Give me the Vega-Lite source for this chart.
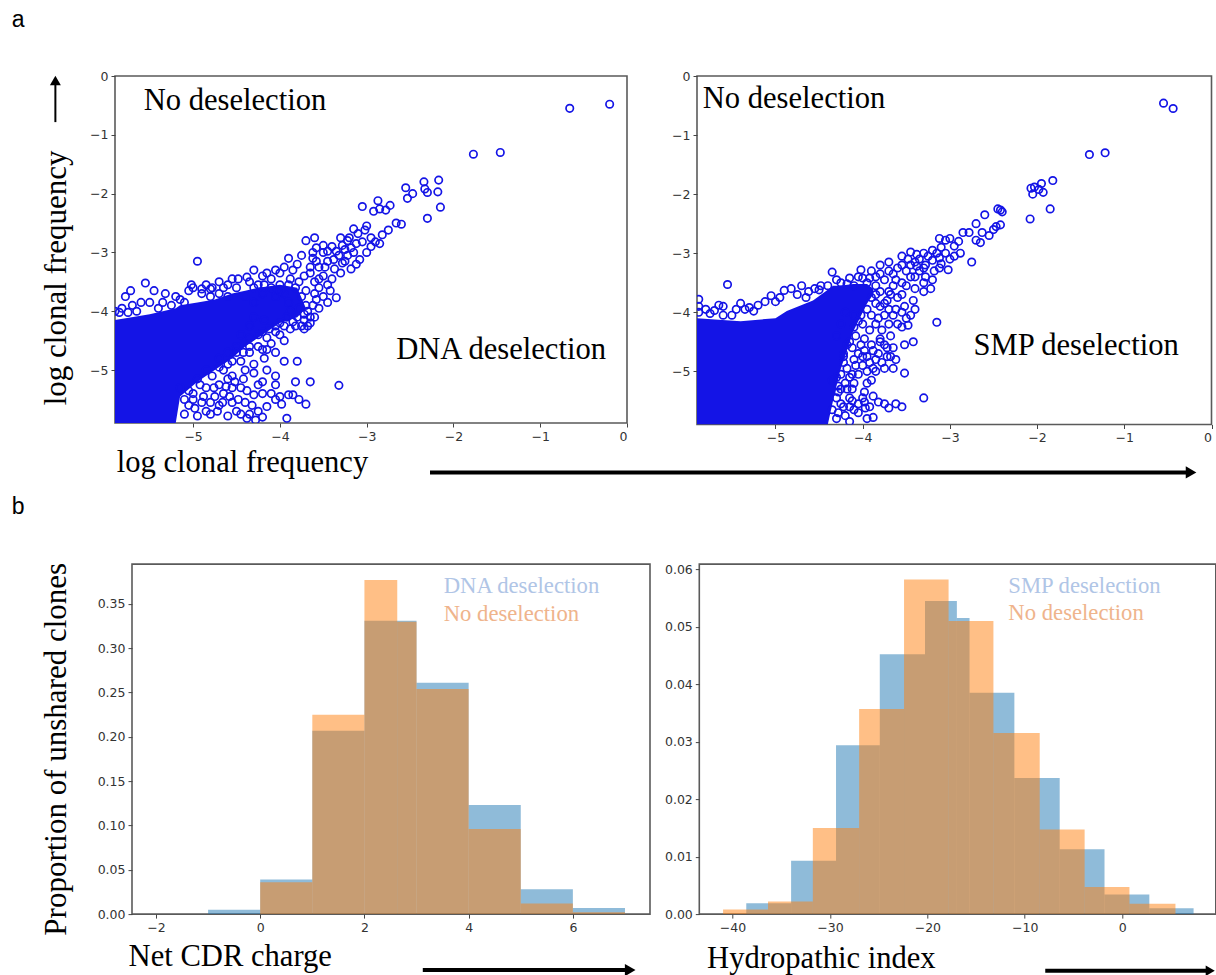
{"$schema":"https://vega.github.io/schema/vega-lite/v6.json","padding":{"left":10,"top":8,"right":0,"bottom":0},"background":"white","bounds":"flush","spacing":488.1,
"config":{"view":{"stroke":"#5a5a5a","strokeWidth":1.6},"axis":{"grid":false,"title":null,"domain":false,"tickColor":"#444","tickSize":4,"labelColor":"#333","labelFont":"DejaVu Sans","labelFontSize":12.5,"labelPadding":3},"text":{"font":"Liberation Serif","fontSize":30.6,"align":"left","baseline":"alphabetic","color":"black"}},
"datasets":{
"dnaPts":[{"x":-0.2,"y":-0.48},{"x":-0.66,"y":-0.55},{"x":-1.46,"y":-1.3},{"x":-1.77,"y":-1.33},{"x":-2.17,"y":-1.77},{"x":-2.34,"y":-1.8},{"x":-2.33,"y":-1.92},{"x":-2.55,"y":-1.9},{"x":-2.18,"y":-1.97},{"x":-2.3,"y":-1.98},{"x":-2.47,"y":-2.0},{"x":-2.15,"y":-2.23},{"x":-2.3,"y":-2.42},{"x":-2.53,"y":-2.08},{"x":-2.6,"y":-2.52},{"x":-2.66,"y":-2.5},{"x":-2.87,"y":-2.12},{"x":-2.73,"y":-2.2},{"x":-2.92,"y":-2.3},{"x":-2.85,"y":-2.26},{"x":-3.05,"y":-2.22},{"x":-2.78,"y":-2.28},{"x":-2.75,"y":-2.62},{"x":-2.82,"y":-2.7},{"x":-2.85,"y":-2.85},{"x":-2.9,"y":-2.82},{"x":-2.95,"y":-2.9},{"x":-3.0,"y":-2.55},{"x":-3.02,"y":-2.62},{"x":-3.15,"y":-2.6},{"x":-3.1,"y":-2.68},{"x":-3.2,"y":-2.75},{"x":-3.22,"y":-2.8},{"x":-3.25,"y":-2.95},{"x":-3.3,"y":-2.75},{"x":-3.4,"y":-2.9},{"x":-3.45,"y":-2.98},{"x":-3.5,"y":-3.0},{"x":-3.6,"y":-2.75},{"x":-3.62,"y":-3.0},{"x":-3.7,"y":-2.8},{"x":-3.75,"y":-3.05},{"x":-3.0,"y":-3.0},{"x":-3.08,"y":-3.12},{"x":-3.12,"y":-3.2},{"x":-3.18,"y":-3.28},{"x":-3.15,"y":-3.0},{"x":-3.22,"y":-3.05},{"x":-3.28,"y":-3.18},{"x":-3.3,"y":-3.35},{"x":-3.37,"y":-3.28},{"x":-3.35,"y":-3.77},{"x":-3.45,"y":-3.15},{"x":-3.5,"y":-3.4},{"x":-3.55,"y":-3.25},{"x":-3.62,"y":-3.1},{"x":-3.6,"y":-3.5},{"x":-3.65,"y":-3.35},{"x":-3.7,"y":-3.65},{"x":-3.8,"y":-3.2},{"x":-3.85,"y":-3.3},{"x":-3.88,"y":-3.45},{"x":-3.9,"y":-3.1},{"x":-3.95,"y":-3.25},{"x":-4.0,"y":-3.35},{"x":-4.05,"y":-3.3},{"x":-4.15,"y":-3.35},{"x":-4.2,"y":-3.4},{"x":-4.3,"y":-3.3},{"x":-4.38,"y":-3.42},{"x":-4.48,"y":-3.45},{"x":-4.6,"y":-3.55},{"x":-4.7,"y":-3.5},{"x":-4.78,"y":-3.6},{"x":-4.85,"y":-3.55},{"x":-4.95,"y":-3.15},{"x":-5.0,"y":-3.6},{"x":-5.02,"y":-3.55},{"x":-5.05,"y":-3.65},{"x":-5.2,"y":-3.75},{"x":-5.32,"y":-3.7},{"x":-5.45,"y":-3.65},{"x":-5.5,"y":-3.85},{"x":-5.6,"y":-3.85},{"x":-5.55,"y":-3.52},{"x":-5.72,"y":-3.65},{"x":-5.78,"y":-3.75},{"x":-5.9,"y":-4.0},{"x":-5.85,"y":-4.02},{"x":-5.75,"y":-4.02},{"x":-5.65,"y":-4.0},{"x":-3.7,"y":-3.9},{"x":-3.72,"y":-4.05},{"x":-3.75,"y":-3.75},{"x":-3.78,"y":-3.95},{"x":-3.8,"y":-4.1},{"x":-3.85,"y":-4.18},{"x":-3.82,"y":-3.6},{"x":-3.9,"y":-3.85},{"x":-3.88,"y":-4.0},{"x":-3.92,"y":-4.1},{"x":-3.95,"y":-3.7},{"x":-4.0,"y":-3.55},{"x":-4.0,"y":-4.2},{"x":-4.05,"y":-3.75},{"x":-4.05,"y":-4.25},{"x":-4.1,"y":-3.6},{"x":-4.12,"y":-4.3},{"x":-4.18,"y":-3.55},{"x":-4.18,"y":-4.15},{"x":-4.2,"y":-3.7},{"x":-4.25,"y":-4.4},{"x":-3.95,"y":-4.5},{"x":-4.0,"y":-4.4},{"x":-4.1,"y":-4.55},{"x":-4.05,"y":-4.7},{"x":-4.15,"y":-4.45},{"x":-4.18,"y":-4.8},{"x":-4.2,"y":-4.65},{"x":-3.95,"y":-4.85},{"x":-3.8,"y":-4.85},{"x":-4.05,"y":-5.1},{"x":-3.82,"y":-5.2},{"x":-3.65,"y":-5.2},{"x":-3.32,"y":-5.26},{"x":-4.05,"y":-5.25},{"x":-4.15,"y":-5.0},{"x":-4.2,"y":-5.2},{"x":-4.3,"y":-4.9},{"x":-4.3,"y":-5.05},{"x":-4.35,"y":-4.7},{"x":-4.35,"y":-4.6},{"x":-4.4,"y":-5.0},{"x":-4.45,"y":-4.85},{"x":-4.5,"y":-4.7},{"x":-4.55,"y":-5.1},{"x":-4.6,"y":-4.9},{"x":-4.65,"y":-5.0},{"x":-4.25,"y":-5.25},{"x":-4.3,"y":-5.42},{"x":-4.2,"y":-5.4},{"x":-4.1,"y":-5.4},{"x":-4.0,"y":-5.45},{"x":-4.05,"y":-5.5},{"x":-3.9,"y":-5.42},{"x":-3.85,"y":-5.42},{"x":-3.98,"y":-5.58},{"x":-3.7,"y":-5.58},{"x":-3.78,"y":-5.5},{"x":-3.92,"y":-5.82},{"x":-4.25,"y":-5.7},{"x":-4.2,"y":-5.8},{"x":-4.38,"y":-5.82},{"x":-4.5,"y":-5.7},{"x":-4.55,"y":-5.55},{"x":-4.6,"y":-5.78},{"x":-4.7,"y":-5.6},{"x":-4.7,"y":-5.25},{"x":-4.75,"y":-5.45},{"x":-4.78,"y":-5.1},{"x":-4.8,"y":-5.75},{"x":-4.65,"y":-5.4},{"x":-4.55,"y":-5.3},{"x":-4.45,"y":-5.3},{"x":-4.4,"y":-5.55},{"x":-4.45,"y":-5.75},{"x":-4.85,"y":-5.3},{"x":-4.9,"y":-5.55},{"x":-4.95,"y":-5.78},{"x":-5.05,"y":-5.6},{"x":-4.35,"y":-5.75},{"x":-4.32,"y":-5.6},{"x":-4.6,"y":-5.15},{"x":-4.15,"y":-5.62},{"x":-3.6,"y":-4.1},{"x":-3.55,"y":-3.95},{"x":-3.65,"y":-4.2},{"x":-3.58,"y":-3.8},{"x":-3.68,"y":-4.0},{"x":-3.75,"y":-4.25},{"x":-4.3,"y":-3.6},{"x":-4.4,"y":-3.75},{"x":-4.5,"y":-3.6},{"x":-4.6,"y":-3.75},{"x":-4.7,"y":-3.7},{"x":-4.8,"y":-3.75},{"x":-4.9,"y":-3.7},{"x":-5.1,"y":-3.85},{"x":-5.25,"y":-3.9},{"x":-5.4,"y":-3.95},{"x":-4.3,"y":-3.85},{"x":-4.3,"y":-4.1},{"x":-4.35,"y":-4.25},{"x":-4.45,"y":-4.4},{"x":-4.5,"y":-4.6},{"x":-4.6,"y":-4.7},{"x":-4.7,"y":-4.8},{"x":-4.85,"y":-5.0},{"x":-4.95,"y":-5.15},{"x":-5.05,"y":-5.35},{"x":-5.0,"y":-5.5},{"x":-5.15,"y":-5.3},{"x":-5.1,"y":-5.5},{"x":-5.1,"y":-5.75},{"x":-5.0,"y":-5.4},{"x":-4.98,"y":-5.65},{"x":-4.92,"y":-5.25},{"x":-4.88,"y":-5.45},{"x":-4.85,"y":-5.7},{"x":-4.8,"y":-5.55},{"x":-4.76,"y":-5.3},{"x":-4.72,"y":-5.7},{"x":-4.66,"y":-5.55},{"x":-4.62,"y":-5.28},{"x":-4.58,"y":-5.45},{"x":-4.52,"y":-5.2},{"x":-4.48,"y":-5.5},{"x":-4.42,"y":-5.15},{"x":-4.38,"y":-5.35},{"x":-4.28,"y":-5.85},{"x":-4.7,"y":-4.95},{"x":-4.55,"y":-4.85},{"x":-4.42,"y":-4.7},{"x":-4.25,"y":-4.6},{"x":-4.15,"y":-4.65},{"x":-4.35,"y":-4.45},{"x":-4.2,"y":-4.35},{"x":-4.05,"y":-4.35},{"x":-3.95,"y":-4.25},{"x":-3.88,"y":-4.3},{"x":-3.82,"y":-4.25},{"x":-3.72,"y":-4.15},{"x":-3.65,"y":-4.1},{"x":-3.62,"y":-3.9},{"x":-3.6,"y":-3.7},{"x":-3.55,"y":-3.6},{"x":-3.5,"y":-3.75},{"x":-3.45,"y":-3.55},{"x":-3.45,"y":-3.85},{"x":-3.42,"y":-3.65},{"x":-3.4,"y":-3.45},{"x":-3.38,"y":-3.12},{"x":-3.32,"y":-3.05},{"x":-3.25,"y":-3.15},{"x":-3.55,"y":-3.45},{"x":-3.65,"y":-3.25},{"x":-3.72,"y":-3.4},{"x":-3.78,"y":-3.5},{"x":-3.58,"y":-3.15},{"x":-3.48,"y":-3.25},{"x":-3.9,"y":-3.55},{"x":-4.0,"y":-3.65},{"x":-4.1,"y":-3.45},{"x":-4.25,"y":-3.55},{"x":-4.35,"y":-3.5},{"x":-4.55,"y":-3.45},{"x":-4.65,"y":-3.6},{"x":-4.8,"y":-3.62},{"x":-4.9,"y":-3.62},{"x":-5.15,"y":-3.8},{"x":-5.35,"y":-3.85},{"x":-5.7,"y":-3.9},{"x":-5.82,"y":-3.95},{"x":-3.72,"y":-4.3},{"x":-3.68,"y":-4.25},{"x":-3.05,"y":-2.82},{"x":-2.95,"y":-2.75},{"x":-3.18,"y":-2.92},{"x":-3.12,"y":-2.85},{"x":-3.28,"y":-2.88},{"x":-3.35,"y":-2.98},{"x":-3.5,"y":-2.88},{"x":-3.58,"y":-2.92}],
"dnaCore":[{"x":-5.9,"lo":-5.9,"hi":-4.15},{"x":-5.5,"lo":-5.9,"hi":-4.05},{"x":-5.2,"lo":-5.9,"hi":-3.95},{"x":-5.15,"lo":-5.45,"hi":-3.9},{"x":-4.95,"lo":-5.2,"hi":-3.85},{"x":-4.75,"lo":-5.0,"hi":-3.8},{"x":-4.55,"lo":-4.8,"hi":-3.7},{"x":-4.4,"lo":-4.6,"hi":-3.65},{"x":-4.25,"lo":-4.45,"hi":-3.6},{"x":-4.0,"lo":-4.2,"hi":-3.55},{"x":-3.8,"lo":-4.1,"hi":-3.6},{"x":-3.7,"lo":-3.95,"hi":-3.95}],
"smpPts":[{"x":-0.44,"y":-0.55},{"x":-0.55,"y":-0.46},{"x":-1.22,"y":-1.3},{"x":-1.4,"y":-1.33},{"x":-1.82,"y":-1.77},{"x":-1.95,"y":-1.82},{"x":-2.03,"y":-1.88},{"x":-1.98,"y":-1.92},{"x":-2.07,"y":-1.9},{"x":-1.93,"y":-1.97},{"x":-2.05,"y":-2.0},{"x":-1.85,"y":-2.25},{"x":-2.08,"y":-2.42},{"x":-2.45,"y":-2.25},{"x":-2.42,"y":-2.27},{"x":-2.4,"y":-2.3},{"x":-2.47,"y":-2.55},{"x":-2.42,"y":-2.52},{"x":-2.5,"y":-2.6},{"x":-2.6,"y":-2.35},{"x":-2.7,"y":-2.5},{"x":-2.78,"y":-2.65},{"x":-2.63,"y":-2.65},{"x":-2.55,"y":-2.7},{"x":-2.65,"y":-2.82},{"x":-2.7,"y":-2.78},{"x":-2.75,"y":-3.15},{"x":-2.85,"y":-2.65},{"x":-2.9,"y":-2.8},{"x":-2.95,"y":-2.88},{"x":-3.0,"y":-2.75},{"x":-3.05,"y":-2.78},{"x":-3.12,"y":-2.75},{"x":-3.1,"y":-2.9},{"x":-3.2,"y":-2.95},{"x":-3.15,"y":-3.0},{"x":-3.05,"y":-3.0},{"x":-2.95,"y":-3.05},{"x":-3.0,"y":-3.1},{"x":-3.12,"y":-3.08},{"x":-3.2,"y":-3.12},{"x":-3.28,"y":-3.2},{"x":-3.3,"y":-3.0},{"x":-3.35,"y":-3.1},{"x":-3.4,"y":-3.15},{"x":-3.45,"y":-3.2},{"x":-3.5,"y":-3.3},{"x":-3.55,"y":-3.05},{"x":-3.6,"y":-3.25},{"x":-3.3,"y":-3.5},{"x":-3.35,"y":-3.3},{"x":-3.4,"y":-3.4},{"x":-3.2,"y":-3.45},{"x":-3.22,"y":-3.6},{"x":-3.15,"y":-4.17},{"x":-3.3,"y":-3.65},{"x":-3.4,"y":-3.6},{"x":-3.5,"y":-3.55},{"x":-3.55,"y":-3.7},{"x":-3.42,"y":-3.8},{"x":-3.52,"y":-3.9},{"x":-3.4,"y":-3.95},{"x":-3.6,"y":-3.75},{"x":-3.62,"y":-3.95},{"x":-3.5,"y":-4.1},{"x":-3.6,"y":-4.2},{"x":-3.48,"y":-4.22},{"x":-3.52,"y":-4.55},{"x":-3.42,"y":-4.5},{"x":-3.3,"y":-5.45},{"x":-3.55,"y":-5.6},{"x":-3.75,"y":-4.55},{"x":-3.7,"y":-4.2},{"x":-3.75,"y":-4.05},{"x":-3.82,"y":-4.1},{"x":-3.68,"y":-4.4},{"x":-3.65,"y":-4.6},{"x":-3.72,"y":-4.75},{"x":-3.65,"y":-4.95},{"x":-3.75,"y":-4.95},{"x":-3.52,"y":-5.03},{"x":-3.85,"y":-4.8},{"x":-3.82,"y":-4.7},{"x":-3.85,"y":-5.0},{"x":-3.9,"y":-4.55},{"x":-3.92,"y":-4.3},{"x":-3.92,"y":-4.85},{"x":-3.98,"y":-4.65},{"x":-4.0,"y":-4.9},{"x":-4.05,"y":-4.7},{"x":-4.05,"y":-5.05},{"x":-4.1,"y":-4.8},{"x":-4.12,"y":-5.05},{"x":-3.9,"y":-5.15},{"x":-3.95,"y":-5.2},{"x":-3.98,"y":-5.35},{"x":-4.1,"y":-5.2},{"x":-4.0,"y":-5.45},{"x":-3.88,"y":-5.42},{"x":-3.82,"y":-5.52},{"x":-3.75,"y":-5.55},{"x":-3.7,"y":-5.62},{"x":-3.62,"y":-5.55},{"x":-4.05,"y":-5.55},{"x":-4.05,"y":-5.7},{"x":-3.97,"y":-5.62},{"x":-3.95,"y":-5.8},{"x":-3.88,"y":-5.78},{"x":-4.15,"y":-5.45},{"x":-4.2,"y":-5.2},{"x":-4.25,"y":-5.05},{"x":-4.2,"y":-5.75},{"x":-4.15,"y":-5.85},{"x":-4.25,"y":-5.55},{"x":-4.28,"y":-5.7},{"x":-4.15,"y":-5.6},{"x":-4.12,"y":-4.6},{"x":-4.08,"y":-4.4},{"x":-4.18,"y":-4.95},{"x":-3.95,"y":-3.95},{"x":-3.85,"y":-3.85},{"x":-3.75,"y":-3.85},{"x":-3.7,"y":-3.65},{"x":-3.65,"y":-3.55},{"x":-3.75,"y":-3.45},{"x":-3.62,"y":-3.45},{"x":-3.8,"y":-3.35},{"x":-3.7,"y":-3.3},{"x":-3.85,"y":-3.55},{"x":-3.9,"y":-3.3},{"x":-3.95,"y":-3.5},{"x":-4.0,"y":-3.42},{"x":-4.05,"y":-3.4},{"x":-4.1,"y":-3.55},{"x":-4.18,"y":-3.52},{"x":-4.25,"y":-3.5},{"x":-4.35,"y":-3.32},{"x":-4.4,"y":-3.55},{"x":-4.48,"y":-3.55},{"x":-4.55,"y":-3.6},{"x":-4.65,"y":-3.75},{"x":-4.7,"y":-3.55},{"x":-4.82,"y":-3.6},{"x":-4.9,"y":-3.63},{"x":-4.95,"y":-3.75},{"x":-5.05,"y":-3.72},{"x":-5.12,"y":-3.82},{"x":-5.2,"y":-3.88},{"x":-5.3,"y":-3.92},{"x":-5.4,"y":-3.85},{"x":-5.55,"y":-3.53},{"x":-5.45,"y":-3.95},{"x":-5.6,"y":-3.9},{"x":-5.65,"y":-3.88},{"x":-5.8,"y":-3.95},{"x":-5.88,"y":-3.78},{"x":-5.88,"y":-4.0},{"x":-5.75,"y":-4.02},{"x":-5.6,"y":-4.05},{"x":-5.5,"y":-4.05},{"x":-3.85,"y":-3.7},{"x":-3.7,"y":-3.95},{"x":-3.78,"y":-4.3},{"x":-3.8,"y":-4.45},{"x":-3.85,"y":-4.2},{"x":-3.9,"y":-4.05},{"x":-4.0,"y":-4.2},{"x":-3.98,"y":-4.45},{"x":-4.02,"y":-4.05},{"x":-4.1,"y":-4.25},{"x":-4.18,"y":-4.55},{"x":-4.22,"y":-4.75},{"x":-4.28,"y":-5.25},{"x":-4.3,"y":-5.45},{"x":-4.35,"y":-5.15},{"x":-4.35,"y":-5.65},{"x":-3.3,"y":-3.25},{"x":-3.12,"y":-3.25},{"x":-3.02,"y":-3.28},{"x":-2.88,"y":-3.0},{"x":-4.3,"y":-4.4},{"x":-4.25,"y":-4.2},{"x":-4.22,"y":-4.7},{"x":-4.2,"y":-4.0},{"x":-4.15,"y":-4.5},{"x":-4.1,"y":-4.05},{"x":-4.05,"y":-4.15},{"x":-4.25,"y":-5.3},{"x":-4.3,"y":-5.1},{"x":-4.22,"y":-4.85},{"x":-4.15,"y":-5.1},{"x":-4.12,"y":-5.3},{"x":-4.18,"y":-5.3},{"x":-4.08,"y":-4.9},{"x":-4.02,"y":-4.55},{"x":-4.0,"y":-4.75},{"x":-3.95,"y":-5.0},{"x":-3.95,"y":-4.75},{"x":-3.88,"y":-4.65},{"x":-3.88,"y":-4.95},{"x":-3.8,"y":-4.5},{"x":-3.78,"y":-4.85},{"x":-3.72,"y":-4.6},{"x":-3.68,"y":-4.75},{"x":-3.62,"y":-4.8},{"x":-3.55,"y":-4.25},{"x":-3.45,"y":-4.05},{"x":-3.55,"y":-4.0},{"x":-3.65,"y":-4.05},{"x":-3.72,"y":-3.8},{"x":-3.68,"y":-3.7},{"x":-3.8,"y":-3.65},{"x":-3.8,"y":-3.9},{"x":-3.9,"y":-3.75},{"x":-3.55,"y":-3.5},{"x":-3.45,"y":-3.4},{"x":-3.48,"y":-3.1},{"x":-3.38,"y":-3.22},{"x":-3.28,"y":-3.4},{"x":-3.18,"y":-3.3},{"x":-3.1,"y":-3.18},{"x":-3.25,"y":-3.05},{"x":-3.38,"y":-3.02},{"x":-3.45,"y":-2.98},{"x":-3.7,"y":-3.15},{"x":-3.8,"y":-3.2},{"x":-3.55,"y":-3.2},{"x":-3.65,"y":-3.35},{"x":-3.85,"y":-3.4},{"x":-3.92,"y":-3.42},{"x":-4.02,"y":-3.28},{"x":-4.15,"y":-3.42},{"x":-4.3,"y":-3.45},{"x":-4.12,"y":-5.5},{"x":-4.3,"y":-5.8},{"x":-4.22,"y":-5.6},{"x":-4.28,"y":-5.35},{"x":-4.1,"y":-5.65},{"x":-3.98,"y":-5.52},{"x":-3.92,"y":-5.6},{"x":-4.5,"y":-3.62},{"x":-4.62,"y":-3.65},{"x":-4.75,"y":-3.7},{"x":-5.0,"y":-3.82},{"x":-5.25,"y":-3.98},{"x":-5.35,"y":-3.95},{"x":-5.88,"y":-3.9},{"x":-5.7,"y":-3.97}],
"smpCore":[{"x":-5.9,"lo":-5.9,"hi":-4.1},{"x":-5.4,"lo":-5.9,"hi":-4.15},{"x":-5.0,"lo":-5.9,"hi":-4.1},{"x":-4.87,"lo":-5.9,"hi":-3.98},{"x":-4.57,"lo":-5.9,"hi":-3.8},{"x":-4.4,"lo":-5.9,"hi":-3.62},{"x":-4.34,"lo":-5.5,"hi":-3.55},{"x":-4.26,"lo":-5.0,"hi":-3.55},{"x":-4.11,"lo":-4.33,"hi":-3.52},{"x":-3.95,"lo":-3.85,"hi":-3.52},{"x":-3.88,"lo":-3.7,"hi":-3.6}],
"chargeBars":[{"a":-1,"b":0,"v":0.005,"s":"DNA"},{"a":0,"b":1,"v":0.039,"s":"DNA"},{"a":1,"b":2,"v":0.207,"s":"DNA"},{"a":2,"b":3,"v":0.331,"s":"DNA"},{"a":3,"b":4,"v":0.261,"s":"DNA"},{"a":4,"b":5,"v":0.123,"s":"DNA"},{"a":5,"b":6,"v":0.028,"s":"DNA"},{"a":6,"b":7,"v":0.007,"s":"DNA"},{"a":0,"b":1,"v":0.036,"s":"No"},{"a":1,"b":2,"v":0.225,"s":"No"},{"a":2,"b":2.63,"v":0.377,"s":"No"},{"a":2.63,"b":3,"v":0.33,"s":"No"},{"a":3,"b":4,"v":0.254,"s":"No"},{"a":4,"b":5,"v":0.096,"s":"No"},{"a":5,"b":6,"v":0.012,"s":"No"},{"a":6,"b":7,"v":0.002,"s":"No"}],
"hydroBars":[{"a":-38.58,"b":-33.98,"v":0.0019,"s":"SMP"},{"a":-33.98,"b":-29.37,"v":0.0093,"s":"SMP"},{"a":-29.37,"b":-24.88,"v":0.0294,"s":"SMP"},{"a":-24.88,"b":-20.24,"v":0.0452,"s":"SMP"},{"a":-20.24,"b":-16.97,"v":0.0545,"s":"SMP"},{"a":-16.97,"b":-15.67,"v":0.0515,"s":"SMP"},{"a":-15.67,"b":-11.07,"v":0.0385,"s":"SMP"},{"a":-11.07,"b":-6.42,"v":0.0237,"s":"SMP"},{"a":-6.42,"b":-1.82,"v":0.0113,"s":"SMP"},{"a":-1.82,"b":2.78,"v":0.0034,"s":"SMP"},{"a":2.78,"b":7.32,"v":0.001,"s":"SMP"},{"a":-40.96,"b":-36.35,"v":0.0008,"s":"No"},{"a":-36.35,"b":-31.75,"v":0.0022,"s":"No"},{"a":-31.75,"b":-27.0,"v":0.015,"s":"No"},{"a":-27.0,"b":-22.39,"v":0.0357,"s":"No"},{"a":-22.39,"b":-17.82,"v":0.0582,"s":"No"},{"a":-17.82,"b":-13.22,"v":0.051,"s":"No"},{"a":-13.22,"b":-8.47,"v":0.0315,"s":"No"},{"a":-8.47,"b":-3.86,"v":0.0147,"s":"No"},{"a":-3.86,"b":0.74,"v":0.0047,"s":"No"},{"a":0.74,"b":5.46,"v":0.0018,"s":"No"}]
},
"vconcat":[
{"bounds":"flush","spacing":70,"hconcat":[
{"width":512,"height":347,"layer":[
{"data":{"name":"dnaCore"},"mark":{"type":"area","color":"#1414e6","clip":true},"encoding":{"x":{"field":"x","type":"quantitative","scale":{"domain":[-5.9,0],"nice":false},"axis":{"values":[-5,-4,-3,-2,-1,0],"format":"d"}},"y":{"field":"lo","type":"quantitative","scale":{"domain":[-5.9,0],"nice":false},"axis":{"values":[-5,-4,-3,-2,-1,0],"format":"d"}},"y2":{"field":"hi"}}},
{"data":{"name":"dnaPts"},"mark":{"type":"point","filled":false,"size":55,"strokeWidth":1.7,"color":"#1414e6","opacity":1,"clip":true},"encoding":{"x":{"field":"x","type":"quantitative"},"y":{"field":"y","type":"quantitative"}}},
{"data":{"values":[{"x":-5.57,"y":-0.585,"t":"No deselection"},{"x":-2.66,"y":-4.81,"t":"DNA deselection"},{"x":-5.88,"y":-6.74,"t":"log clonal frequency"}]},"mark":{"type":"text"},"encoding":{"x":{"field":"x","type":"quantitative"},"y":{"field":"y","type":"quantitative"},"text":{"field":"t"}}},
{"data":{"values":[{"x":-6.47,"y":-5.6,"t":"log clonal frequency"}]},"mark":{"type":"text","angle":270,"fontSize":31},"encoding":{"x":{"field":"x","type":"quantitative"},"y":{"field":"y","type":"quantitative"},"text":{"field":"t"}}},
{"data":{"values":[{"x":-7.09,"y":0.83,"t":"a"}]},"mark":{"type":"text","font":"Liberation Sans","fontSize":23},"encoding":{"x":{"field":"x","type":"quantitative"},"y":{"field":"y","type":"quantitative"},"text":{"field":"t"}}},
{"data":{"values":[{"x":-7.09,"y":-7.44,"t":"b"}]},"mark":{"type":"text","font":"Liberation Sans","fontSize":23},"encoding":{"x":{"field":"x","type":"quantitative"},"y":{"field":"y","type":"quantitative"},"text":{"field":"t"}}},
{"data":{"values":[{"x":-6.587,"y":-0.784,"y2":-0.14}]},"mark":{"type":"rule","color":"black","strokeWidth":2},"encoding":{"x":{"field":"x","type":"quantitative"},"y":{"field":"y","type":"quantitative"},"y2":{"field":"y2"}}},
{"data":{"values":[{"x":-6.587,"y":-0.075}]},"mark":{"type":"point","shape":"triangle-up","filled":true,"color":"black","size":120,"opacity":1},"encoding":{"x":{"field":"x","type":"quantitative"},"y":{"field":"y","type":"quantitative"}}},
{"data":{"values":[{"x":-2.27,"x2":6.45,"y":-6.74}]},"mark":{"type":"rule","color":"black","strokeWidth":4},"encoding":{"x":{"field":"x","type":"quantitative"},"x2":{"field":"x2"},"y":{"field":"y","type":"quantitative"}}},
{"data":{"values":[{"x":6.5,"y":-6.74}]},"mark":{"type":"point","shape":"triangle-right","filled":true,"color":"black","size":150,"opacity":1},"encoding":{"x":{"field":"x","type":"quantitative"},"y":{"field":"y","type":"quantitative"}}}
]},
{"width":514.5,"height":348.5,"layer":[
{"data":{"name":"smpCore"},"mark":{"type":"area","color":"#1414e6","clip":true},"encoding":{"x":{"field":"x","type":"quantitative","scale":{"domain":[-5.9,0],"nice":false},"axis":{"values":[-5,-4,-3,-2,-1,0],"format":"d"}},"y":{"field":"lo","type":"quantitative","scale":{"domain":[-5.9,0],"nice":false},"axis":{"values":[-5,-4,-3,-2,-1,0],"format":"d"}},"y2":{"field":"hi"}}},
{"data":{"name":"smpPts"},"mark":{"type":"point","filled":false,"size":55,"strokeWidth":1.7,"color":"#1414e6","opacity":1,"clip":true},"encoding":{"x":{"field":"x","type":"quantitative"},"y":{"field":"y","type":"quantitative"}}},
{"data":{"values":[{"x":-5.835,"y":-0.54,"t":"No deselection"},{"x":-2.73,"y":-4.73,"t":"SMP deselection"}]},"mark":{"type":"text"},"encoding":{"x":{"field":"x","type":"quantitative"},"y":{"field":"y","type":"quantitative"},"text":{"field":"t"}}}
]}
]},
{"bounds":"flush","spacing":584.3,"hconcat":[
{"bounds":"flush","spacing":0,"hconcat":[
{"width":16.3,"height":350,"view":{"stroke":null},"data":{"values":[{"x":0}]},"mark":{"type":"point","opacity":0},"encoding":{}},
{"width":518,"height":350,"layer":[
{"data":{"name":"chargeBars"},"mark":{"type":"rect","opacity":0.5},"encoding":{"x":{"field":"a","type":"quantitative","scale":{"domain":[-2.46,7.48],"nice":false},"axis":{"values":[-2,0,2,4,6],"format":"d"}},"x2":{"field":"b"},"y":{"field":"v","type":"quantitative","scale":{"domain":[0,0.395],"nice":false},"axis":{"values":[0,0.05,0.1,0.15,0.2,0.25,0.3,0.35],"format":".2f"}},"y2":{"datum":0},"color":{"field":"s","type":"nominal","legend":null,"scale":{"domain":["DNA","No"],"range":["#1f77b4","#ff7f0e"]}}}},
{"data":{"values":[{"x":3.52,"y":0.362,"t":"DNA deselection"}]},"mark":{"type":"text","fontSize":22.7,"color":"#b0c5e6"},"encoding":{"x":{"field":"x","type":"quantitative"},"y":{"field":"y","type":"quantitative"},"text":{"field":"t"}}},
{"data":{"values":[{"x":3.52,"y":0.3313,"t":"No deselection"}]},"mark":{"type":"text","fontSize":22.7,"color":"#efb48c"},"encoding":{"x":{"field":"x","type":"quantitative"},"y":{"field":"y","type":"quantitative"},"text":{"field":"t"}}},
{"data":{"values":[{"x":-2.526,"y":-0.0589,"t":"Net CDR charge"}]},"mark":{"type":"text"},"encoding":{"x":{"field":"x","type":"quantitative"},"y":{"field":"y","type":"quantitative"},"text":{"field":"t"}}},
{"data":{"values":[{"x":-3.735,"y":-0.0243,"t":"Proportion of unshared clones"}]},"mark":{"type":"text","angle":270,"fontSize":31},"encoding":{"x":{"field":"x","type":"quantitative"},"y":{"field":"y","type":"quantitative"},"text":{"field":"t"}}},
{"data":{"values":[{"x":3.12,"x2":7.0,"y":-0.0632}]},"mark":{"type":"rule","color":"black","strokeWidth":4},"encoding":{"x":{"field":"x","type":"quantitative"},"x2":{"field":"x2"},"y":{"field":"y","type":"quantitative"}}},
{"data":{"values":[{"x":7.1,"y":-0.0632}]},"mark":{"type":"point","shape":"triangle-right","filled":true,"color":"black","size":150,"opacity":1},"encoding":{"x":{"field":"x","type":"quantitative"},"y":{"field":"y","type":"quantitative"}}}
]}
]},
{"width":516.5,"height":350,"layer":[
{"data":{"name":"hydroBars"},"mark":{"type":"rect","opacity":0.5},"encoding":{"x":{"field":"a","type":"quantitative","scale":{"domain":[-43.4,9.6],"nice":false},"axis":{"values":[-40,-30,-20,-10,0],"format":"d"}},"x2":{"field":"b"},"y":{"field":"v","type":"quantitative","scale":{"domain":[0,0.0609],"nice":false},"axis":{"values":[0,0.01,0.02,0.03,0.04,0.05,0.06],"format":".2f"}},"y2":{"datum":0},"color":{"field":"s","type":"nominal","legend":null,"scale":{"domain":["SMP","No"],"range":["#1f77b4","#ff7f0e"]}}}},
{"data":{"values":[{"x":-11.69,"y":0.05588,"t":"SMP deselection"}]},"mark":{"type":"text","fontSize":22.7,"color":"#b0c5e6"},"encoding":{"x":{"field":"x","type":"quantitative"},"y":{"field":"y","type":"quantitative"},"text":{"field":"t"}}},
{"data":{"values":[{"x":-11.69,"y":0.05112,"t":"No deselection"}]},"mark":{"type":"text","fontSize":22.7,"color":"#efb48c"},"encoding":{"x":{"field":"x","type":"quantitative"},"y":{"field":"y","type":"quantitative"},"text":{"field":"t"}}},
{"data":{"values":[{"x":-42.6,"y":-0.00944,"t":"Hydropathic index"}]},"mark":{"type":"text"},"encoding":{"x":{"field":"x","type":"quantitative"},"y":{"field":"y","type":"quantitative"},"text":{"field":"t"}}},
{"data":{"values":[{"x":-7.9,"x2":8.6,"y":-0.00984}]},"mark":{"type":"rule","color":"black","strokeWidth":4},"encoding":{"x":{"field":"x","type":"quantitative"},"x2":{"field":"x2"},"y":{"field":"y","type":"quantitative"}}},
{"data":{"values":[{"x":9.03,"y":-0.00984}]},"mark":{"type":"point","shape":"triangle-right","filled":true,"color":"black","size":110,"opacity":1},"encoding":{"x":{"field":"x","type":"quantitative"},"y":{"field":"y","type":"quantitative"}}}
]}
]}
]}
